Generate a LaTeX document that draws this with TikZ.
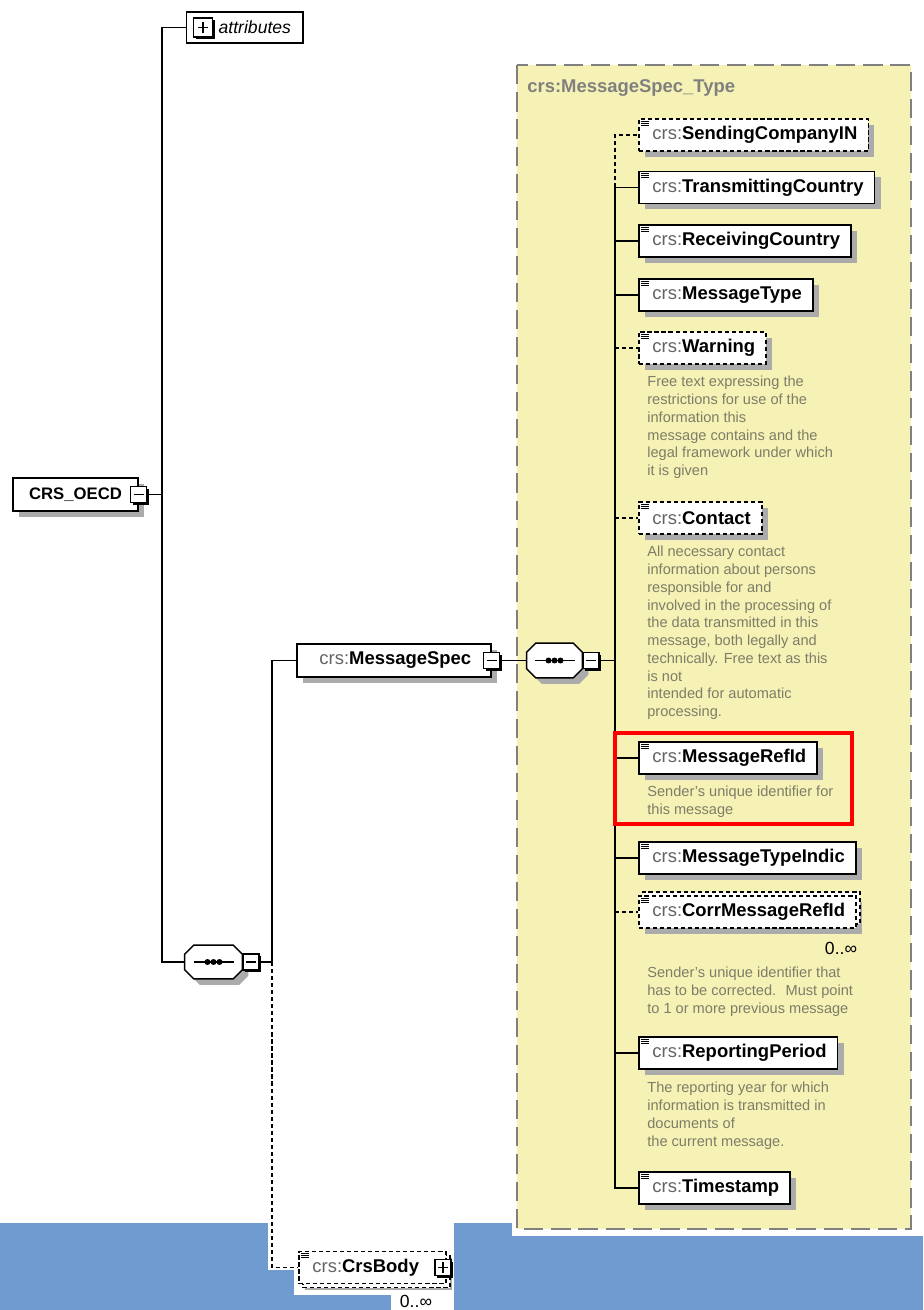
\documentclass[tikz,border=0pt]{standalone}
\usepackage{fontspec}
\setmainfont{Liberation Sans}
\usetikzlibrary{calc,shadows}

\definecolor{typefill}{RGB}{246,242,181}
\definecolor{typeedge}{RGB}{128,128,128}
\definecolor{bandblue}{RGB}{112,155,208}
\definecolor{docgray}{RGB}{125,125,104}
\definecolor{nsgray}{RGB}{100,100,100}

\def\el#1{\hspace{1.5pt}\textcolor{nsgray}{crs:}\textbf{#1}}
% sequence compositor drawn round an empty node
\def\octpath#1{([xshift=0.18cm]#1.north west) -- ([xshift=-0.18cm]#1.north east)
	-- ([yshift=-0.18cm]#1.north east) -- ([yshift=0.18cm]#1.south east)
	-- ([xshift=-0.18cm]#1.south east) -- ([xshift=0.18cm]#1.south west)
	-- ([yshift=0.18cm]#1.south west) -- ([yshift=-0.18cm]#1.north west) -- cycle}
\def\seqshape#1{%
	\fill[black!33, transform canvas={shift={(0.12cm,-0.12cm)}}] \octpath{#1};
	\filldraw[fill=white, line width=0.8pt] \octpath{#1};
	\draw[line width=0.8pt] ([xshift=-0.4cm]#1.center) -- ([xshift=0.4cm]#1.center);
	\foreach \d in {-0.12,0,0.12} \fill ([xshift=\d cm]#1.center) circle (1.7pt);
}

\tikzset{
  conn/.style={line width=0.7pt},
  optline/.style={dash pattern=on 2.4pt off 1.6pt},
  boxshadow/.style={drop shadow={shadow xshift=0.12cm, shadow yshift=-0.12cm, fill=black!33, opacity=1}},
  elem/.style={draw, line width=0.9pt, fill=white, boxshadow, anchor=west, minimum height=0.64cm,
    inner xsep=0.22cm, inner ysep=0pt, font=\fontsize{10.5}{12}\selectfont,
    path picture={\foreach \k in {2,4,6} \draw[solid, line width=0.5pt]
      ([shift={(2,\k)}]path picture bounding box.north west) -- ++(8,0);}},
  optelem/.style={elem, optline},
  multi/.style={general shadow={shadow xshift=0.08cm, shadow yshift=#1, fill=white, draw, optline, line width=0.9pt}},
  namebox/.style={draw, line width=0.9pt, fill=white, boxshadow, minimum width=3.88cm, minimum height=0.66cm,
    inner sep=0pt, font=\fontsize{10.5}{12}\selectfont},
  rootbox/.style={namebox, minimum width=2.5cm, font=\fontsize{9.5}{11}\selectfont\bfseries},
  attrbox/.style={draw, line width=0.8pt, fill=white, anchor=west, minimum height=0.62cm, inner xsep=0.24cm,
    font=\fontsize{10}{12}\selectfont},
  togminus/.style={draw, line width=0.8pt, fill=white, minimum size=0.32cm, inner sep=0pt,
    drop shadow={shadow xshift=1.2pt, shadow yshift=-1.2pt, fill=black, opacity=1},
    path picture={\draw[solid, line width=0.8pt] ([xshift=-3pt]path picture bounding box.center)
      -- ([xshift=3pt]path picture bounding box.center);}},
  togplus/.style={togminus,
    path picture={\draw[solid, line width=0.8pt] ([xshift=-3pt]path picture bounding box.center)
      -- ([xshift=3pt]path picture bounding box.center)
      ([yshift=-3pt]path picture bounding box.center) -- ([yshift=3pt]path picture bounding box.center);}},
  seqnode/.style={minimum width=1.14cm, minimum height=0.66cm, inner sep=0pt},
  doc/.style={anchor=north west, align=left, inner sep=0pt, text=docgray, font=\fontsize{8.3}{10.1}\selectfont},
  card/.style={inner sep=0pt, font=\fontsize{10}{12}\selectfont},
  typetitle/.style={anchor=west, inner sep=0pt, text=typeedge, font=\fontsize{10.5}{12}\selectfont\bfseries},
  hilite/.style={draw=red, line width=0.08cm}
}

\begin{document}
\begin{tikzpicture}[x=0.02cm, y=-0.02cm]
	%%%%% START %%%%%
	\useasboundingbox (0,0) rectangle (923,1310);
	
	% band at the bottom
	\fill[bandblue] (0,1223) rectangle (923,1310);
	\fill[white] (512,1223) rectangle (923,1236);
	\fill[white] (268,1223) rectangle (454,1230);
	\fill[white] (268,1230) rectangle (297,1270);
	\fill[white] (294,1230) rectangle (454,1295);
	\fill[white] (391,1295) rectangle (454,1310);
	
	% complex type
	\draw[typeedge, fill=typefill, line width=0.9pt, dash pattern=on 11pt off 4.5pt] (517,65) rectangle (911,1229);
	\node[typetitle] (typename) at (527,88) {crs:MessageSpec\_Type};
	
	% root and compositors
	\node[rootbox] (oecd) at (75.5,494.5) {CRS\_OECD};
	\node[togminus] (oecdt) at (oecd.east) {};
	\node[attrbox] (attr) at (186,27.5) {\hspace{0.4cm}\textit{attributes}};
	\node[togplus, minimum size=0.38cm] (attrt) at (203,27.5) {};
	
	\node[seqnode] (seq1) at (213.5,962) {};
	\seqshape{seq1}
	\node[togminus, anchor=west] (seq1t) at (seq1.east) {};
	\node[namebox] (msg) at (394,660.5) {\el{MessageSpec}};
	\node[togminus] (msgt) at (msg.east) {};
	\node[seqnode, minimum width=1.1cm, minimum height=0.68cm] (seq2) at (554.5,660.5) {};
	\seqshape{seq2}
	\node[togminus, anchor=west] (seq2t) at (seq2.east) {};
	
	% elements
	\node[optelem] (send) at (638,135) {\el{SendingCompanyIN}};
	\node[elem] (trans) at (638,187.5) {\el{TransmittingCountry}};
	\node[elem] (recv) at (638,241) {\el{ReceivingCountry}};
	\node[elem] (mtype) at (638,295) {\el{MessageType}};
	\node[optelem] (warn) at (638,348) {\el{Warning}};
	\node[doc] (warndoc) at (647,376) {Free text expressing the\\restrictions for use of the\\information this\\message contains and the\\legal framework under which\\it is given};
	\node[optelem] (contact) at (638,518) {\el{Contact}};
	\node[doc] (contactdoc) at (647,546) {All necessary contact\\information about persons\\responsible for and\\involved in the processing of\\the data transmitted in this\\message, both legally and\\technically. Free text as this\\is not\\intended for automatic\\processing.};
	\node[elem] (refid) at (638,758) {\el{MessageRefId}};
	\node[doc] (refiddoc) at (647,786) {Sender's unique identifier for\\this message};
	\node[elem] (tindic) at (638,858) {\el{MessageTypeIndic}};
	\node[optelem, multi=0.08cm] (corr) at (638,912) {\el{CorrMessageRefId}};
	\node[card] (corrcard) at (841,948) {0..∞};
	\node[doc] (corrdoc) at (647,967) {Sender's unique identifier that\\has to be corrected.~ Must point\\to 1 or more previous message};
	\node[elem] (period) at (638,1053) {\el{ReportingPeriod}};
	\node[doc] (perioddoc) at (647,1082) {The reporting year for which\\information is transmitted in\\documents of\\the current message.};
	\node[elem] (stamp) at (638,1188) {\el{Timestamp}};
	
	\node[optelem, multi=-0.08cm] (body) at (298,1267.5) {\el{CrsBody}\kern0.32cm};
	\node[togplus] (bodyt) at ([xshift=-0.08cm]body.east) {};
	\node[card] (bodycard) at (416,1301) {0..∞};
	
	% connectors
	\coordinate (trunk) at (162,0);
	\coordinate (fork) at (272,0);
	\coordinate (spine) at (615,0);
	\draw[conn] (attr.west) -- (attr.west -| trunk) -- (trunk |- seq1) -- (seq1.west);
	\draw[conn] (oecdt.east) -- (oecdt.east -| trunk);
	\draw[conn] (seq1t.east) -- (seq1t.east -| fork) -- (fork |- msg) -- (msg.west);
	\draw[conn, optline] (fork |- seq1) -- (fork |- body) -- (body.west);
	\draw[conn] (msgt.east) -- (seq2.west);
	\draw[conn] (seq2t.east) -- (seq2t.east -| spine);
	\draw[conn] (spine |- trans) -- (spine |- stamp) -- (stamp.west);
	\draw[conn, optline] (spine |- trans) -- (spine |- send) -- (send.west);
	\foreach \n in {trans,recv,mtype,refid,tindic,period}
		\draw[conn] (spine |- \n) -- (\n.west);
	\foreach \n in {warn,contact,corr}
		\draw[conn, optline] (spine |- \n) -- (\n.west);
	
	\draw[hilite] (615,733) rectangle (852,824);
	%%%%% END %%%%%
\end{tikzpicture}
\end{document}
